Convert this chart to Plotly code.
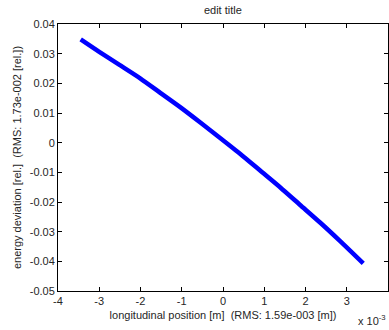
import plotly.graph_objects as go

# longitudinal position in units of 1e-3 m, energy deviation (rel.)
x_pos_e3 = [-3.45, -3.00, -2.51, -2.00, -1.52, -1.03, -0.55, -0.07, 0.42, 0.90, 1.39, 1.87, 2.36, 2.84, 3.40]
energy_dev = [0.0348, 0.0306, 0.0262, 0.0216, 0.0168, 0.0119, 0.0068, 0.0016, -0.0038, -0.0094, -0.0151, -0.0210, -0.0270, -0.0332, -0.0407]

x_tick_vals = [-4, -3, -2, -1, 0, 1, 2, 3, 4]
x_tick_text = ["-4", "-3", "-2", "-1", "0", "1", "2", "3", "4"]
y_tick_vals = [0.04, 0.03, 0.02, 0.01, 0.0, -0.01, -0.02, -0.03, -0.04, -0.05]
y_tick_text = ["0.04", "0.03", "0.02", "0.01", "0", "-0.01", "-0.02", "-0.03", "-0.04", "-0.05"]

title_text = "edit title"
x_title = "longitudinal position [m]  (RMS: 1.59e-003 [m])"
y_title = "energy deviation [rel.]  (RMS: 1.73e-002 [rel.])"

font_family = "Liberation Sans, Arial, sans-serif"
txt_color = "#262626"

fig = go.Figure()
fig.add_trace(go.Scatter(
    x=x_pos_e3, y=energy_dev, mode="lines",
    line=dict(color="rgb(0,0,255)", width=4.5, shape="spline", smoothing=0.6),
    hoverinfo="skip", showlegend=False,
))

axis_common = dict(
    showgrid=False, zeroline=False, showline=True, linecolor="black", linewidth=1,
    mirror="ticks", ticks="inside", ticklen=4, tickcolor="black", tickwidth=1,
    tickfont=dict(family=font_family, size=11, color=txt_color),
)

fig.update_layout(
    width=389, height=330,
    margin=dict(l=58, r=1, t=24, b=39),
    paper_bgcolor="white", plot_bgcolor="white",
    font=dict(family=font_family, size=11, color=txt_color),
    title=dict(text=title_text, x=0.573, xanchor="center", y=0.97, yanchor="middle",
               font=dict(family=font_family, size=11, color=txt_color)),
    xaxis=dict(range=[-4, 4], tickmode="array", tickvals=x_tick_vals, ticktext=x_tick_text,
               title=dict(text=x_title, standoff=5, font=dict(family=font_family, size=11, color=txt_color)),
               **axis_common),
    yaxis=dict(range=[-0.05, 0.04], tickmode="array", tickvals=y_tick_vals, ticktext=y_tick_text,
               title=dict(text=y_title, standoff=5, font=dict(family=font_family, size=11, color=txt_color)),
               **axis_common),
)

fig.add_annotation(
    text="x 10<sup>-3</sup>", xref="paper", yref="paper", x=1.0, y=-0.107,
    xanchor="right", yanchor="middle", showarrow=False,
    font=dict(family=font_family, size=11, color=txt_color),
)

fig.write_html("out.html")
